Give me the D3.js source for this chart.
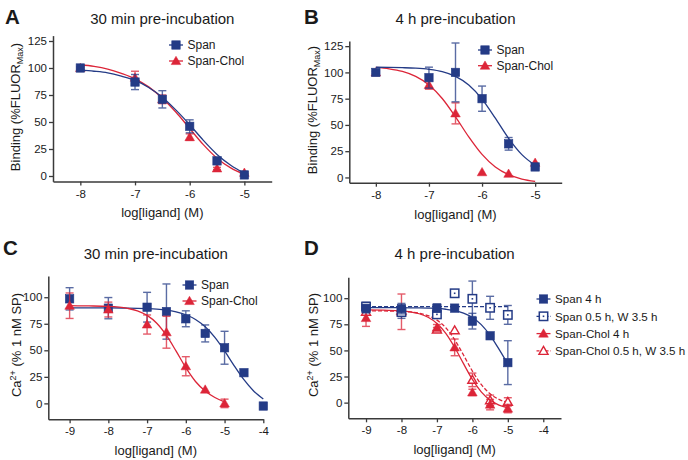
<!DOCTYPE html>
<html><head><meta charset="utf-8">
<script src="https://cdn.jsdelivr.net/npm/d3@7"></script>
<style>body{margin:0;background:#fff}svg{display:block}text{font-family:"Liberation Sans",Arial,Helvetica,sans-serif;fill:#1a1a1a}</style>
</head><body><svg id="c" width="688" height="460"></svg>
<script>
// ---------- DATA ----------
// Panel A (binding, 30 min)
const aX = [-8, -7, -6.5, -6, -5.5, -5];
const aSpan = [100, 87, 71, 46, 14, 1];
const aSpanErr = [1, 7, 8, 6, 2, 1];
const aChol = [100, 91, 71, 36, 7, 3];
const aCholErr = [1, 6, 4, 3, 1, 1];
const aFitX = [-8, -7.75, -7.5, -7.25, -7, -6.75, -6.5, -6.25, -6, -5.75, -5.5, -5.25, -5];
const aSpanFit = [98, 97, 95.5, 92.5, 88.5, 82, 73, 61, 47.5, 33, 20, 10, 2.5];
const aCholFit = [103, 101.5, 99, 95, 90, 82.5, 72, 59, 44, 29, 16.5, 7.5, 1.5];

// Panel B (binding, 4 h)
const bX = [-8, -7, -6.5, -6, -5.5, -5];
const bSpan = [100, 95, 100, 75, 32, 10];
const bSpanErr = [1, 10, 28, 12, 6, 1];
const bChol = [100, 88, 61, 5, 3.5, 14];
const bCholErr = [1, 4, 10, 0, 0, 0];
const bFitX = [-8, -7.75, -7.5, -7.25, -7, -6.75, -6.5, -6.25, -6, -5.75, -5.5, -5.25, -5];
const bSpanFit = [104.9, 104.8, 104.5, 104, 102.9, 100.7, 96.2, 88, 74.6, 56.4, 37.2, 21.7, 11.5];
const bCholFit = [104.7, 103.4, 100.9, 96.2, 88.1, 75.2, 57.7, 38.6, 21.9, 9.9, 2.6, -1.5, -3.7];

// Panel C (Ca2+, 30 min)
const cSpanX = [-9, -8, -7, -6.5, -6, -5.5, -5, -4.5, -4];
const cSpan = [98.5, 89.7, 90.6, 86.5, 79.7, 65.9, 52.4, 28.9, -2.5];
const cSpanErr = [10.5, 10, 14, 26, 7.5, 8, 15.5, 0, 0];
const cCholX = [-9, -8, -7, -6.5, -6, -5.5, -5];
const cChol = [92, 88.4, 74.3, 67, 35, 13, 0];
const cCholErr = [12, 7, 9, 15, 9, 0, 4];
const cSpanFitX = [-9, -8.5, -8, -7.5, -7, -6.75, -6.5, -6.25, -6, -5.75, -5.5, -5.25, -5, -4.75, -4.5, -4.25, -4];
const cSpanFit = [90, 90, 89.9, 89.8, 89.3, 88.8, 87.9, 86.2, 83.5, 79, 72.1, 62.1, 49.4, 35.4, 22.3, 11.7, 4.1];
const cCholFitX = [-9, -8.5, -8, -7.5, -7.25, -7, -6.75, -6.5, -6.25, -6, -5.75, -5.5, -5.25, -5];
const cCholFit = [92, 91.8, 91.4, 89.5, 87.2, 82.9, 75.5, 64, 49.2, 33.6, 20.6, 11.6, 5.5, 1.5];

// Panel D (Ca2+, 4 h)
const dX = [-9, -8, -7, -6.5, -6, -5.5, -5];
const dSpan4 = [90, 90, 90.5, 90.5, 78, 64, 38.3];
const dSpan4Err = [4, 5, 4, 1, 7.5, 1, 21];
const dSpanW = [92, 86.7, 84.5, 104.7, 99.4, 90.8, 84];
const dSpanWErr = [4, 6, 3, 0, 17, 11, 9];
const dChol4 = [81, 87, 71.8, 52.9, 9.8, -1.9, -5.7];
const dChol4Err = [8, 17, 3, 8, 3, 5, 4];
const dCholW = [87, 88, 70, 69.3, 21.8, 2.2, 0.7];
const dCholWErr = [3, 3, 2, 0, 6.5, 5, 4];
const dFitX = [-9, -8.5, -8, -7.75, -7.5, -7.25, -7, -6.75, -6.5, -6.25, -6, -5.75, -5.5, -5.25, -5];
const dSpan4Fit = [91, 91, 90.9, 90.8, 90.7, 90.5, 90.2, 89.4, 88.1, 85.7, 81.5, 74.7, 64.4, 51.2, 37];
const dSpanWFit = [92, 92, 92, 92, 92, 92, 92, 92, 92, 92, 92, 92, 92, 92, 92];
const dChol4Fit = [88.9, 88.5, 87.9, 87, 85.1, 81.7, 75.8, 66.4, 53, 37.3, 22.2, 10.3, 2.4, -2.3, -5];
const dCholWFit = [88, 87.8, 87.4, 86.8, 85.6, 83.3, 79, 71.7, 60.3, 45.6, 30.2, 17.4, 8.5, 3.1, 0.2];

const xTicksAB = [-8, -7, -6, -5];
const yTicksAB = [0, 25, 50, 75, 100, 125];
const xTicksCD = [-9, -8, -7, -6, -5, -4];
const yTicksCD = [0, 25, 50, 75, 100];

const legendAB = ["Span", "Span-Chol"];
const legendD = ["Span 4 h", "Span 0.5 h, W 3.5 h", "Span-Chol 4 h", "Span-Chol 0.5 h, W 3.5 h"];
const titles = ["30 min pre-incubation", "4 h pre-incubation", "30 min pre-incubation", "4 h pre-incubation"];
const letters = ["A", "B", "C", "D"];

// ---------- DRAWING ----------
const BLUE = "#243b86", RED = "#dc2538", AXIS = "#3a3a3a";
const svg = d3.select("#c");

function marker(g, shape, color, open, cx, cy) {
  if (shape === "sq") {
    g.append("rect").attr("x", cx - 4.2).attr("y", cy - 4.2).attr("width", 8.4).attr("height", 8.4)
      .attr("fill", open ? "#fff" : color).attr("stroke", color).attr("stroke-width", open ? 1.5 : 0.6);
    if (open) g.append("rect").attr("x", cx - 0.8).attr("y", cy - 0.8).attr("width", 1.6).attr("height", 1.6).attr("fill", color);
  } else {
    g.append("path").attr("d", d3.symbol(d3.symbolTriangle).size(open ? 36 : 40)())
      .attr("transform", `translate(${cx},${cy + 0.8})`)
      .attr("fill", open ? "#fff" : color).attr("stroke", color).attr("stroke-width", open ? 1.4 : 0.5);
  }
}

function panel(o) {
  const g = svg.append("g");
  const x = d3.scaleLinear().domain(o.xDomain).range(o.xRange);
  const y = d3.scaleLinear().domain(o.yDomain).range(o.yRange);
  const fmt = d => String(d);
  const xa = g.append("g").attr("transform", `translate(0,${o.yRange[0]})`)
    .call(d3.axisBottom(x).tickValues(o.xTicks).tickSize(4).tickSizeOuter(0).tickPadding(4).tickFormat(fmt));
  const ya = g.append("g").attr("transform", `translate(${o.xRange[0]},0)`)
    .call(d3.axisLeft(y).tickValues(o.yTicks).tickSize(4).tickSizeOuter(0).tickPadding(2).tickFormat(fmt));
  [xa, ya].forEach(a => {
    a.select(".domain").attr("stroke", AXIS).attr("stroke-width", 1.5);
    a.selectAll(".tick line").attr("stroke", AXIS).attr("stroke-width", 1.3);
    a.selectAll(".tick text").attr("font-size", 11.5).attr("fill", "#1a1a1a")
      .attr("font-family", "'Liberation Sans',Arial,sans-serif");
  });
  g.append("text").attr("x", (o.xRange[0] + o.xRange[1]) / 2).attr("y", o.titleY)
    .attr("text-anchor", "middle").attr("font-size", 15).text(o.title);
  g.append("text").attr("x", o.letterX).attr("y", o.letterY).attr("font-size", 20.5)
    .attr("font-weight", "bold").attr("fill", "#000").text(o.letter);
  g.append("text").attr("x", (o.xRange[0] + o.xRange[1]) / 2).attr("y", o.yRange[0] + 36)
    .attr("text-anchor", "middle").attr("font-size", 13).text("log[ligand] (M)");
  const yl = g.append("text").attr("transform", `translate(${o.ylX},${o.ylY}) rotate(-90)`)
    .attr("text-anchor", "middle").attr("font-size", 13);
  if (o.ylKind === "bind") {
    yl.append("tspan").text("Binding (%FLUOR");
    yl.append("tspan").attr("font-size", 9).attr("dy", 3).text("Max");
    yl.append("tspan").attr("dy", -3).text(")");
  } else {
    yl.append("tspan").text("Ca");
    yl.append("tspan").attr("font-size", 9).attr("dy", -5).text("2+");
    yl.append("tspan").attr("dy", 5).text(" (% 1 nM SP)");
  }
  const line = d3.line().x(d => x(d[0])).y(d => y(d[1])).curve(d3.curveMonotoneX);
  o.series.forEach(s => {
    const sg = g.append("g");
    sg.append("path").attr("d", line(s.fitX.map((v, i) => [v, s.fit[i]])))
      .attr("fill", "none").attr("stroke", s.color).attr("stroke-width", 1.3)
      .attr("stroke-dasharray", s.dash ? "4,2" : null);
    s.x.forEach((xv, i) => {
      const e = s.err[i];
      if (e > 0) {
        const px = x(xv), y1 = y(s.y[i] - e), y2 = y(s.y[i] + e);
        const eg = sg.append("g").attr("stroke", s.color).attr("stroke-width", 1.4).attr("opacity", 0.75);
        eg.append("line").attr("x1", px).attr("x2", px).attr("y1", y1).attr("y2", y2);
        eg.append("line").attr("x1", px - 4).attr("x2", px + 4).attr("y1", y1).attr("y2", y1);
        eg.append("line").attr("x1", px - 4).attr("x2", px + 4).attr("y1", y2).attr("y2", y2);
      }
    });
    s.x.forEach((xv, i) => marker(sg, s.shape, s.color, s.open, x(xv), y(s.y[i])));
  });
  o.legend.forEach((lab, i) => {
    const s = o.legendSeries[i];
    const ly = o.legY + i * o.legDy, lx = o.legX;
    g.append("line").attr("x1", lx - 7).attr("x2", lx + 7).attr("y1", ly).attr("y2", ly)
      .attr("stroke", s.color).attr("stroke-width", 1.3).attr("stroke-dasharray", s.dash ? "3,1.5" : null);
    marker(g, s.shape, s.color, s.open, lx, ly);
    g.append("text").attr("x", lx + 11.5).attr("y", ly + 4.3).attr("font-size", o.legFont).text(lab);
  });
}

const sA_span = {x: aX, y: aSpan, err: aSpanErr, fitX: aFitX, fit: aSpanFit, color: BLUE, shape: "sq"};
const sA_chol = {x: aX, y: aChol, err: aCholErr, fitX: aFitX, fit: aCholFit, color: RED, shape: "tri"};
panel({xDomain: [-8.5, -4.5], xRange: [53, 271.7], yDomain: [-5, 130], yRange: [181.4, 35.6],
  xTicks: xTicksAB, yTicks: yTicksAB, title: titles[0], titleY: 24, letter: letters[0], letterX: 5, letterY: 24,
  ylX: 20, ylY: 107, ylKind: "bind", series: [sA_chol, sA_span], legend: legendAB, legendSeries: [sA_span, sA_chol],
  legX: 176, legY: 45, legDy: 16, legFont: 12});

const sB_span = {x: bX, y: bSpan, err: bSpanErr, fitX: bFitX, fit: bSpanFit, color: BLUE, shape: "sq"};
const sB_chol = {x: bX, y: bChol, err: bCholErr, fitX: bFitX, fit: bCholFit, color: RED, shape: "tri"};
panel({xDomain: [-8.5, -4.5], xRange: [349.3, 561.7], yDomain: [-5, 130], yRange: [182.7, 40.9],
  xTicks: xTicksAB, yTicks: yTicksAB, title: titles[1], titleY: 24, letter: letters[1], letterX: 304, letterY: 24,
  ylX: 317, ylY: 110, ylKind: "bind", series: [sB_chol, sB_span], legend: legendAB, legendSeries: [sB_span, sB_chol],
  legX: 485, legY: 50, legDy: 15.7, legFont: 12});

const sC_span = {x: cSpanX, y: cSpan, err: cSpanErr, fitX: cSpanFitX, fit: cSpanFit, color: BLUE, shape: "sq"};
const sC_chol = {x: cCholX, y: cChol, err: cCholErr, fitX: cCholFitX, fit: cCholFit, color: RED, shape: "tri"};
panel({xDomain: [-9.55, -4], xRange: [48.3, 263.3], yDomain: [-15, 120], yRange: [419.3, 276],
  xTicks: xTicksCD, yTicks: yTicksCD, title: titles[2], titleY: 259, letter: letters[2], letterX: 3, letterY: 255,
  ylX: 21, ylY: 345, ylKind: "ca", series: [sC_span, sC_chol], legend: legendAB, legendSeries: [sC_span, sC_chol],
  legX: 189.5, legY: 285, legDy: 16, legFont: 12});

const sD_s4 = {x: dX, y: dSpan4, err: dSpan4Err, fitX: dFitX, fit: dSpan4Fit, color: BLUE, shape: "sq"};
const sD_sw = {x: dX, y: dSpanW, err: dSpanWErr, fitX: dFitX, fit: dSpanWFit, color: BLUE, shape: "sq", open: true, dash: true};
const sD_c4 = {x: dX, y: dChol4, err: dChol4Err, fitX: dFitX, fit: dChol4Fit, color: RED, shape: "tri"};
const sD_cw = {x: dX, y: dCholW, err: dCholWErr, fitX: dFitX, fit: dCholWFit, color: RED, shape: "tri", open: true, dash: true};
panel({xDomain: [-9.5, -3.5], xRange: [348.3, 561], yDomain: [-15, 120], yRange: [418.3, 277.3],
  xTicks: xTicksCD, yTicks: yTicksCD, title: titles[3], titleY: 259, letter: letters[3], letterX: 304, letterY: 255,
  ylX: 318, ylY: 345, ylKind: "ca", series: [sD_cw, sD_c4, sD_sw, sD_s4], legend: legendD,
  legendSeries: [sD_s4, sD_sw, sD_c4, sD_cw], legX: 543.5, legY: 299, legDy: 17.3, legFont: 11.6});
</script></body></html>
